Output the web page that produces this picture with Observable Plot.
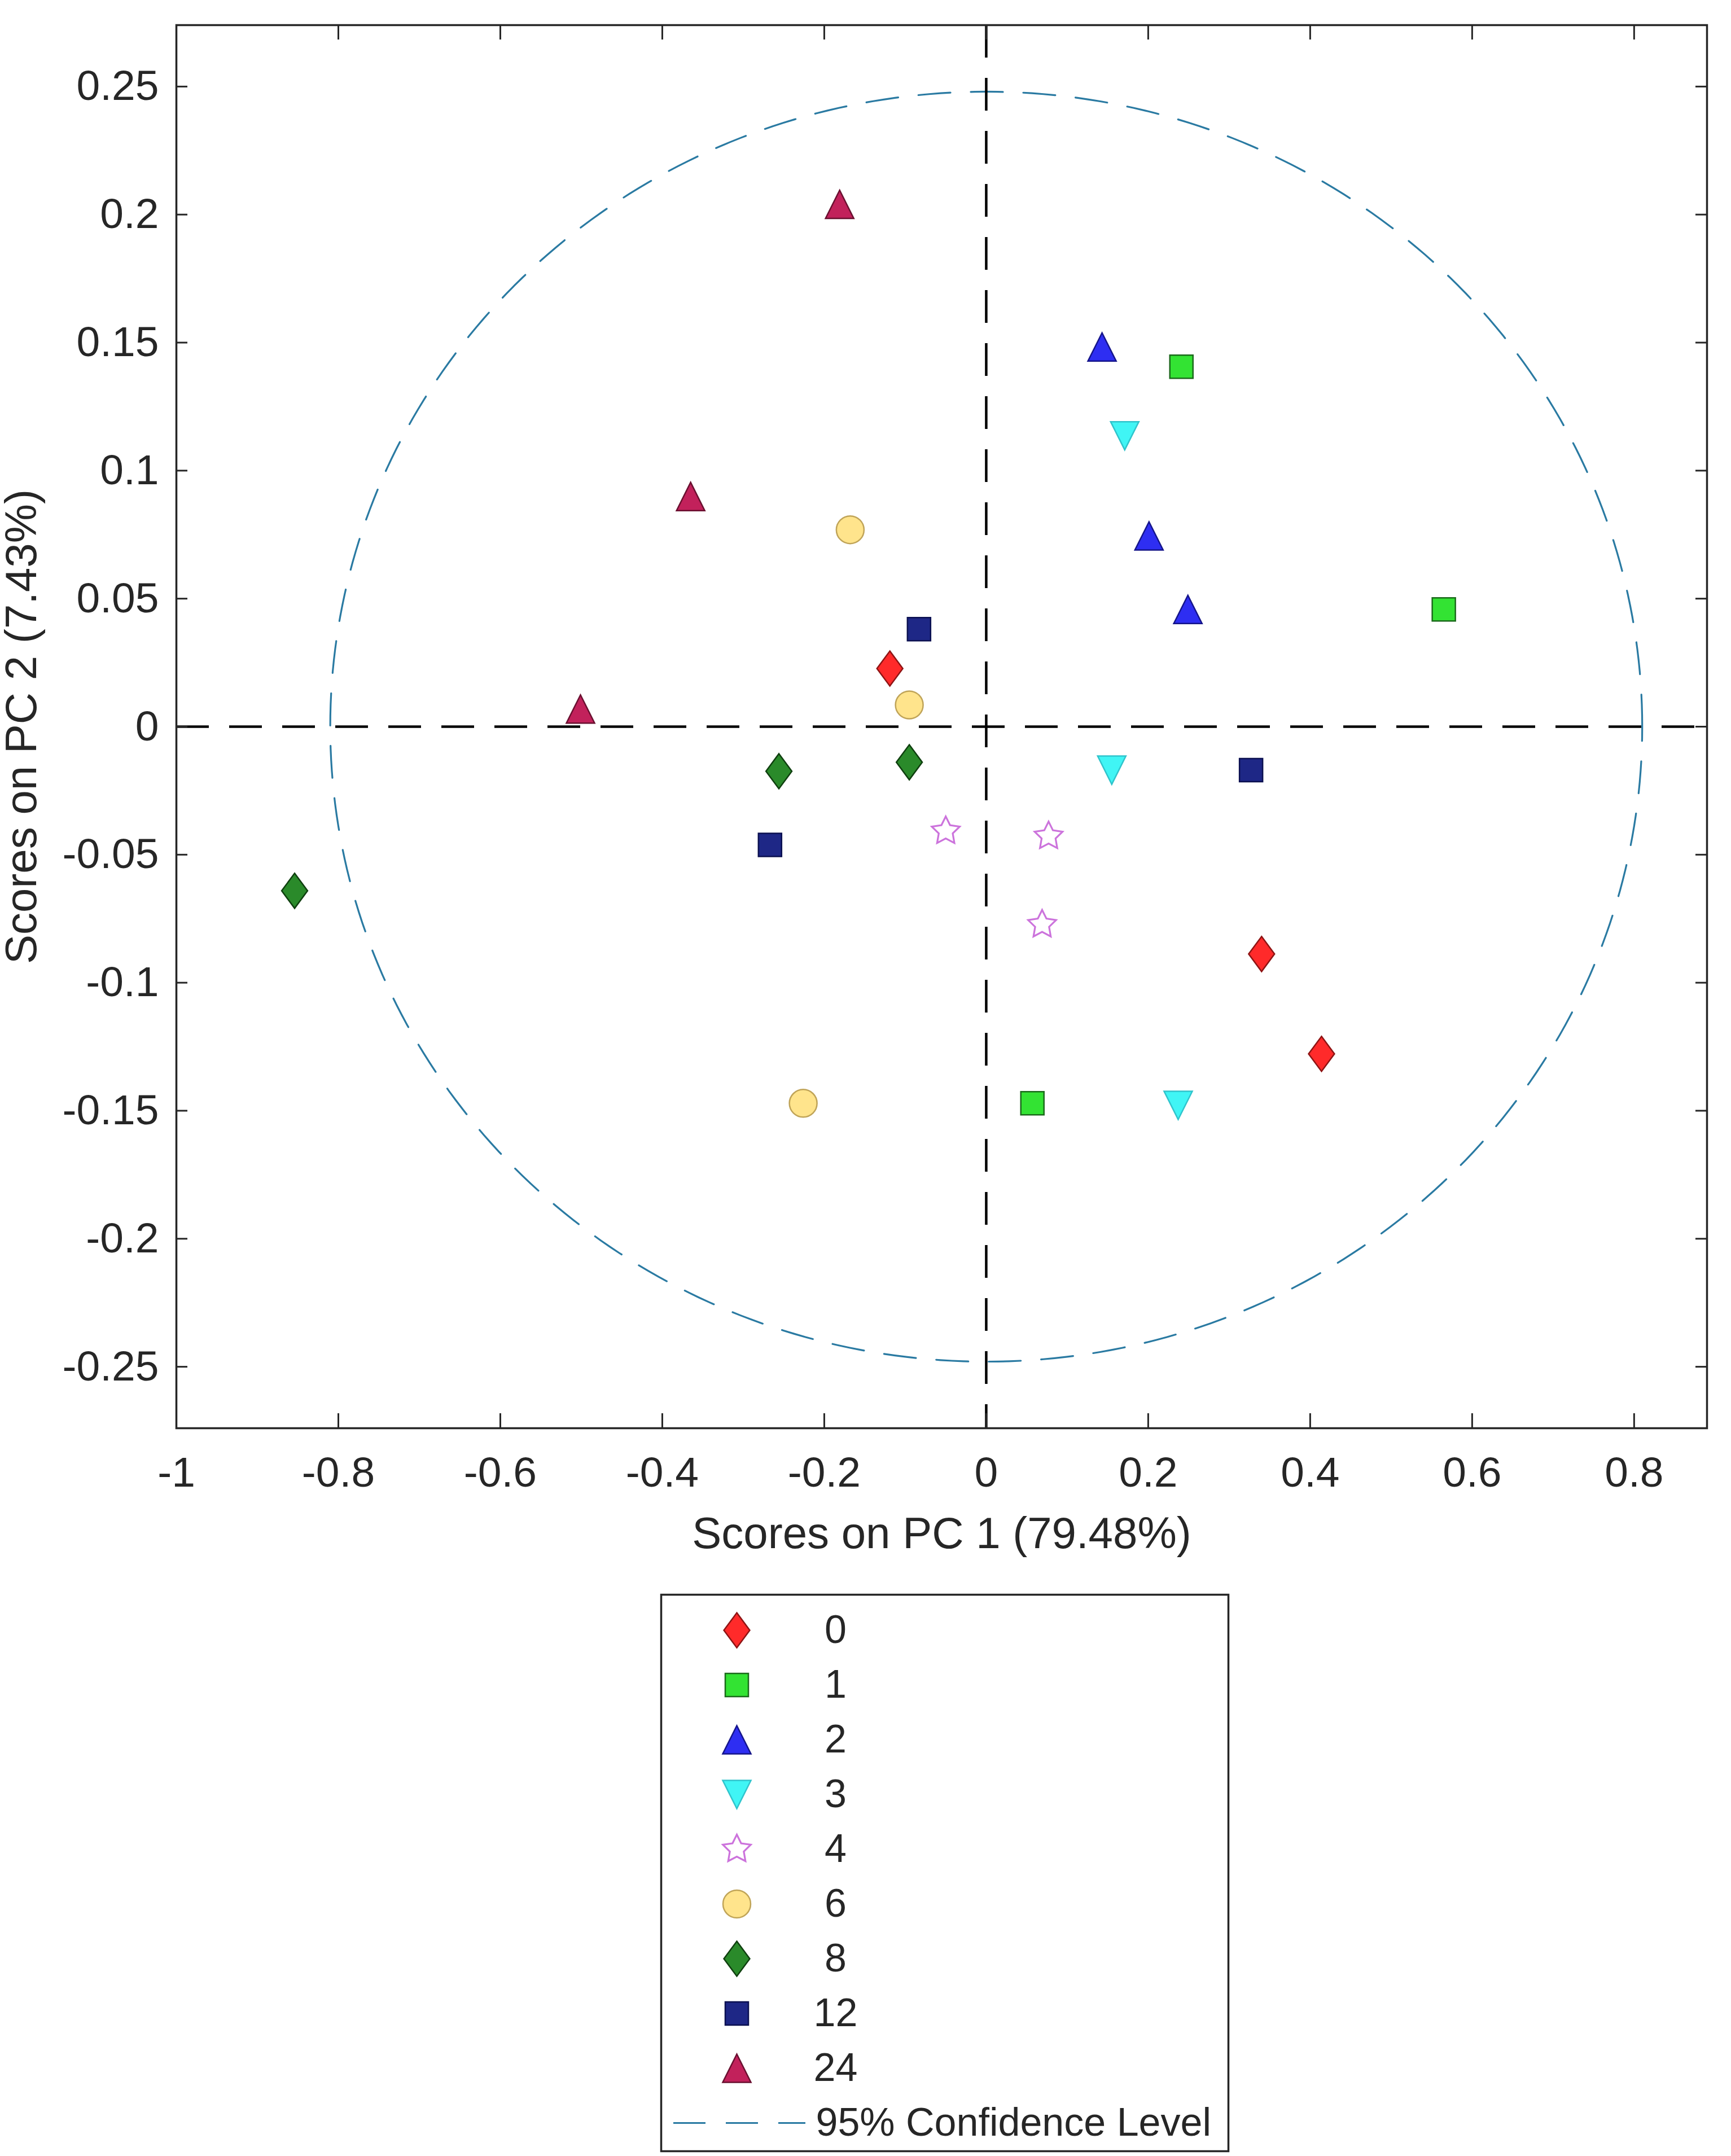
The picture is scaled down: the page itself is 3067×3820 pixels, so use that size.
<!DOCTYPE html>
<html>
<head>
<meta charset="utf-8">
<script src="https://cdn.jsdelivr.net/npm/d3@7"></script>
<script src="https://cdn.jsdelivr.net/npm/@observablehq/plot@0.6"></script>
<style>
  html, body { margin: 0; padding: 0; background: #ffffff; }
  #chart svg { display: block; }
</style>
</head>
<body>
<div id="chart"></div>
<script>
// ---------- data ----------
const groups = ["0", "1", "2", "3", "4", "6", "8", "12", "24"];
const sampleGroup = [
  "0", "0", "0",
  "1", "1", "1",
  "2", "2", "2",
  "3", "3", "3",
  "4", "4", "4",
  "6", "6", "6",
  "8", "8", "8",
  "12", "12", "12",
  "24", "24", "24"
];
const pc1 = [
  -0.119, 0.340, 0.414,
  0.241, 0.565, 0.057,
  0.143, 0.201, 0.249,
  0.171, 0.155, 0.237,
  -0.050, 0.077, 0.069,
  -0.168, -0.095, -0.226,
  -0.256, -0.095, -0.854,
  -0.083, 0.327, -0.267,
  -0.181, -0.365, -0.501
];
const pc2 = [
  0.0227, -0.0888, -0.1278,
  0.1406, 0.0458, -0.1471,
  0.1483, 0.0745, 0.0458,
  0.1136, -0.0170, -0.1479,
  -0.0408, -0.0428, -0.0773,
  0.0769, 0.0085, -0.1471,
  -0.0174, -0.0139, -0.0641,
  0.0381, -0.0170, -0.0462,
  0.2040, 0.0899, 0.0069
];
const groupSymbol = ["diamond", "square", "triUp", "triDown", "star", "circle", "diamond", "square", "triUp"];
const groupFill   = ["#ff2a2a", "#33e333", "#2e2ef2", "#40f5f5", "none", "#ffe48c", "#2a8a2a", "#1e2786", "#c2215b"];
const groupStroke = ["#8e1414", "#1b6a1b", "#15158a", "#30c4cc", "#cc73dc", "#c0a458", "#0f3f0f", "#0b1050", "#6a1030"];
const xTicks = [-1, -0.8, -0.6, -0.4, -0.2, 0, 0.2, 0.4, 0.6, 0.8];
const yTicks = [-0.25, -0.2, -0.15, -0.1, -0.05, 0, 0.05, 0.1, 0.15, 0.2, 0.25];
const xLabel = "Scores on PC 1 (79.48%)";
const yLabel = "Scores on PC 2 (7.43%)";
const confLabel = "95% Confidence Level";
const ellipseRadii = [0.81, 0.248];   // semi-axes of the 95% confidence ellipse (PC1, PC2)

// ---------- symbols (MATLAB-like markers) ----------
const rad = s => Math.sqrt(s / Math.PI);
const symbols = {
  diamond: {draw(c, s) { const r = rad(s), w = r * 0.74; c.moveTo(0, -r); c.lineTo(w, 0); c.lineTo(0, r); c.lineTo(-w, 0); c.closePath(); }},
  square:  {draw(c, s) { const r = rad(s); c.moveTo(-r, -r); c.lineTo(r, -r); c.lineTo(r, r); c.lineTo(-r, r); c.closePath(); }},
  triUp:   {draw(c, s) { const r = rad(s); c.moveTo(0, -r); c.lineTo(r, r); c.lineTo(-r, r); c.closePath(); }},
  triDown: {draw(c, s) { const r = rad(s); c.moveTo(0, r); c.lineTo(r, -r); c.lineTo(-r, -r); c.closePath(); }},
  circle:  {draw(c, s) { const r = rad(s); c.moveTo(r, 0); c.arc(0, 0, r, 0, 2 * Math.PI); c.closePath(); }},
  star:    {draw(c, s) {
    const R = rad(s), ri = R * 0.5;
    for (let k = 0; k < 10; k++) {
      const a = -Math.PI / 2 + k * Math.PI / 5, rr = k % 2 ? ri : R;
      const px = rr * Math.cos(a), py = rr * Math.sin(a);
      if (k === 0) c.moveTo(px, py); else c.lineTo(px, py);
    }
    c.closePath();
  }}
};
const symbolRadius = {diamond: 31, square: 20.5, triUp: 25, triDown: 25, circle: 24.5, star: 26};

// ---------- table ----------
const rows = pc1.map((v, i) => ({group: sampleGroup[i], pc1: v, pc2: pc2[i]}));
const ellipse = d3.range(0, 361).map(t => ({
  x: ellipseRadii[0] * Math.cos(t * Math.PI / 180),
  y: ellipseRadii[1] * Math.sin(t * Math.PI / 180)
}));

// ---------- layout ----------
const W = 3067, H = 2790;
const mL = 312, mR = 43, mT = 44, mB = 260;
const innerW = W - mL - mR, innerH = H - mT - mB;
const ink = "#262626";
const font = "'Liberation Sans', Arial, Helvetica, sans-serif";
const dash = "57,36";
const confColor = "#2a7aa2";

const dotMarks = groups.map((g, gi) => Plot.dot(rows.filter(d => d.group === g), {
  x: "pc1", y: "pc2",
  symbol: symbols[groupSymbol[gi]],
  r: symbolRadius[groupSymbol[gi]],
  fill: groupFill[gi],
  stroke: groupStroke[gi],
  strokeWidth: groupSymbol[gi] === "star" ? 3.2 : 2.5
}));

const main = Plot.plot({
  width: W, height: H,
  marginLeft: mL, marginRight: mR, marginTop: mT, marginBottom: mB,
  x: {domain: [-1, 0.89]},
  y: {domain: [-0.274, 0.274]},
  style: {fontFamily: font, color: ink, background: "#ffffff", overflow: "visible"},
  marks: [
    Plot.line(ellipse, {x: "x", y: "y", stroke: confColor, strokeWidth: 3.2, strokeDasharray: dash}),
    Plot.ruleX([0], {x: d => d, stroke: "#000000", strokeWidth: 4.5, strokeDasharray: "58,36"}),
    Plot.ruleY([0], {y: d => d, stroke: "#000000", strokeWidth: 4.5, strokeDasharray: "58,36"}),
    ...dotMarks,
    // inward tick marks on all four sides (MATLAB box style)
    Plot.ruleX(xTicks, {x: d => d, insetTop: innerH - 26, stroke: ink, strokeWidth: 3}),
    Plot.ruleX(xTicks, {x: d => d, insetBottom: innerH - 26, stroke: ink, strokeWidth: 3}),
    Plot.ruleY(yTicks, {y: d => d, insetRight: innerW - 20, stroke: ink, strokeWidth: 3}),
    Plot.ruleY(yTicks, {y: d => d, insetLeft: innerW - 20, stroke: ink, strokeWidth: 3}),
    Plot.frame({stroke: ink, strokeWidth: 3.5}),
    Plot.axisX(xTicks, {tickSize: 0, tickPadding: 50, fontSize: 75, tickFormat: d => String(d), label: null, fill: ink}),
    Plot.axisY(yTicks, {tickSize: 0, tickPadding: 31, fontSize: 75, tickFormat: d => String(d), label: null, fill: ink}),
    Plot.text([xLabel], {text: d => d, frameAnchor: "bottom", dy: 188, lineAnchor: "middle", textAnchor: "middle", fontSize: 78, fill: ink}),
    Plot.text([yLabel], {text: d => d, frameAnchor: "left", dx: -273, rotate: -90, lineAnchor: "middle", textAnchor: "middle", fontSize: 78, fill: ink})
  ]
});

// ---------- legend (drawn with Plot as well) ----------
const legendEntries = [...groups, confLabel];
const legendMarks = groups.map((g, gi) => Plot.dot([g], {
  y: d => d, frameAnchor: "left", dx: 134,
  symbol: symbols[groupSymbol[gi]],
  r: symbolRadius[groupSymbol[gi]],
  fill: groupFill[gi],
  stroke: groupStroke[gi],
  strokeWidth: groupSymbol[gi] === "star" ? 3.2 : 2.5
}));
const legend = Plot.plot({
  width: W, height: 3820 - H,
  marginLeft: 1171, marginRight: 891, marginTop: 35, marginBottom: 9,
  x: {domain: [0, 1], axis: null},
  y: {type: "point", domain: legendEntries, padding: 0.5, insetTop: 12, axis: null},
  style: {fontFamily: font, color: ink, background: "#ffffff", overflow: "visible"},
  marks: [
    Plot.frame({stroke: ink, strokeWidth: 3.5, fill: "#ffffff"}),
    ...legendMarks,
    Plot.text(groups, {y: d => d, text: d => d, frameAnchor: "left", dx: 309, textAnchor: "middle", fontSize: 70, fill: ink}),
    Plot.ruleY([confLabel], {y: d => d, insetLeft: 22, insetRight: 749, stroke: confColor, strokeWidth: 3.2, strokeDasharray: dash}),
    Plot.text([confLabel], {y: d => d, text: d => d, frameAnchor: "left", dx: 274, textAnchor: "start", fontSize: 70, fill: ink})
  ]
});

const host = document.getElementById("chart");
host.appendChild(main);
host.appendChild(legend);
</script>
</body>
</html>
